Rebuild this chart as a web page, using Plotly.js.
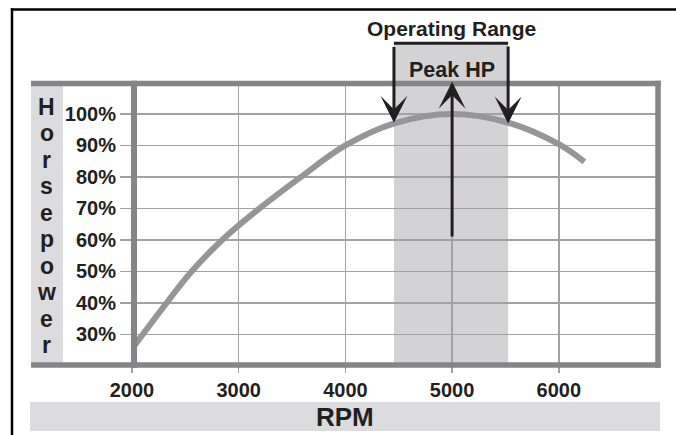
<!DOCTYPE html>
<html>
<head>
<meta charset="utf-8">
<script src="https://cdn.plot.ly/plotly-3.0.1.min.js"></script>
<style>html,body{margin:0;padding:0;background:#fff;}#chart{width:676px;height:435px;}</style>
</head>
<body>
<div id="chart"></div>
<script>
// ---- data ----
const rpm = [2000, 2325, 2560, 2840, 3180, 3575, 4000, 4465, 5000, 5520, 6000, 6240];
const hpPct = [25.4, 40, 50, 59.8, 69.6, 79.8, 90, 97.1, 100, 97.3, 90.4, 84.8];
const xTicks = [2000, 3000, 4000, 5000, 6000];
const yTicks = [30, 40, 50, 60, 70, 80, 90, 100];
const yTickText = ['30%', '40%', '50%', '60%', '70%', '80%', '90%', '100%'];
const operatingRange = [4455, 5525];
const peakRpm = 5000;
const yLetters = ['H','o','r','s','e','p','o','w','e','r'];
const titleText = 'Operating Range';
const peakText = 'Peak HP';
const xTitle = 'RPM';

// ---- layout helpers ----
const W = 676, H = 435;
const M = {l: 132, r: 18, t: 83, b: 70};
const PW = W - M.l - M.r, PH = H - M.t - M.b;
const px = x => (x - M.l) / PW;
const py = y => (H - M.b - y) / PH;

const FONT = 'Liberation Sans, Arial, Helvetica, sans-serif';
const TXT = '#231f20';
const FRAME = '#858589';
const GRID = '#a0a2a6';
const BAND = '#dcdcde';
const SHADE = '#d3d3d5';

const shapes = [
  {type:'rect', xref:'paper', yref:'paper', x0:px(31), x1:px(63), y0:py(364), y1:py(84), fillcolor:BAND, line:{width:0}, layer:'below'},
  {type:'rect', xref:'paper', yref:'paper', x0:px(30), x1:px(660), y0:py(431), y1:py(402), fillcolor:BAND, line:{width:0}, layer:'below'},
  {type:'rect', xref:'x', yref:'paper', x0:operatingRange[0], x1:operatingRange[1], y0:0, y1:py(43.3), fillcolor:SHADE, line:{width:0}, layer:'below'},
  {type:'line', xref:'paper', yref:'paper', x0:px(31), x1:px(660.7), y0:py(83.4), y1:py(83.4), line:{color:FRAME, width:5.5}, layer:'above'},
  {type:'line', xref:'paper', yref:'paper', x0:px(31), x1:px(660.7), y0:py(365), y1:py(365), line:{color:FRAME, width:5.5}, layer:'above'},
  {type:'line', xref:'paper', yref:'paper', x0:px(658), x1:px(658), y0:py(367.7), y1:py(80.7), line:{color:FRAME, width:5.5}, layer:'above'},
  {type:'line', xref:'paper', yref:'paper', x0:px(134), x1:px(134), y0:py(368), y1:py(80.7), line:{color:FRAME, width:6}, layer:'above'},
  {type:'line', xref:'x', yref:'paper', x0:operatingRange[0], x1:operatingRange[1], y0:py(43.3), y1:py(43.3), line:{color:TXT, width:3}, layer:'above'},
  {type:'line', xref:'paper', yref:'paper', x0:px(10.8), x1:px(690), y0:py(9.5), y1:py(9.5), line:{color:'#000', width:2.5}, layer:'above'},
  {type:'line', xref:'paper', yref:'paper', x0:px(12), x1:px(12), y0:py(8.3), y1:py(445), line:{color:'#000', width:2.5}, layer:'above'}
];

const annotations = [
  {x:operatingRange[0], y:97.2, xref:'x', yref:'y', ax:0, ay:43.3-120.5, axref:'pixel', ayref:'pixel', text:'', showarrow:true, arrowhead:3, arrowsize:1.5, arrowwidth:3, arrowcolor:TXT, standoff:0},
  {x:operatingRange[1], y:97.0, xref:'x', yref:'y', ax:0, ay:43.3-121.7, axref:'pixel', ayref:'pixel', text:'', showarrow:true, arrowhead:3, arrowsize:1.5, arrowwidth:3, arrowcolor:TXT, standoff:0},
  {x:peakRpm, y:py(81.7), xref:'x', yref:'paper', ax:0, ay:238-81.7, axref:'pixel', ayref:'pixel', text:'', showarrow:true, arrowhead:3, arrowsize:1.5, arrowwidth:3, arrowcolor:TXT, standoff:0},
  {x:px(451), y:py(28), xref:'paper', yref:'paper', text:titleText, showarrow:false, xanchor:'center', yanchor:'middle', font:{family:FONT, size:21, weight:'bold', color:TXT}},
  {x:px(452), y:py(70), xref:'paper', yref:'paper', text:peakText, showarrow:false, xanchor:'center', yanchor:'middle', font:{family:FONT, size:21.5, weight:'bold', color:TXT}},
  {x:px(345), y:py(416.5), xref:'paper', yref:'paper', text:xTitle, showarrow:false, xanchor:'center', yanchor:'middle', font:{family:FONT, size:26, weight:'bold', color:TXT}}
];
yLetters.forEach((ch, i) => {
  const base = 115 + 26.44 * i;
  annotations.push({x:px(46.5), y:py(base - 8), xref:'paper', yref:'paper', text:ch, showarrow:false, xanchor:'center', yanchor:'middle', font:{family:FONT, size:23, weight:'bold', color:TXT}});
});

const trace = {
  x: rpm, y: hpPct, type:'scatter', mode:'lines',
  line:{color:'#969699', width:6, shape:'spline', smoothing:1},
  hoverinfo:'skip', cliponaxis:true
};

const layout = {
  width:W, height:H, margin:M,
  paper_bgcolor:'#fff', plot_bgcolor:'rgba(0,0,0,0)',
  showlegend:false,
  xaxis:{range:[2000, 2000 + PW/106.7*1000], tickvals:xTicks, ticktext:xTicks.map(String), showgrid:true, gridcolor:GRID, gridwidth:1.5,
    ticks:'outside', ticklen:7, tickwidth:1.5, tickcolor:GRID, zeroline:false, showline:false,
    tickfont:{family:FONT, size:20, weight:'bold', color:TXT}, fixedrange:true},
  yaxis:{range:[20.24, 109.85], tickvals:yTicks, ticktext:yTickText, showgrid:true, gridcolor:GRID, gridwidth:1.5,
    ticks:'outside', ticklen:11, tickwidth:1.5, tickcolor:GRID, zeroline:false, showline:false,
    tickfont:{family:FONT, size:20, weight:'bold', color:TXT}, fixedrange:true},
  shapes:shapes, annotations:annotations
};

Plotly.newPlot('chart', [trace], layout, {staticPlot:true, displayModeBar:false});
</script>
</body>
</html>
